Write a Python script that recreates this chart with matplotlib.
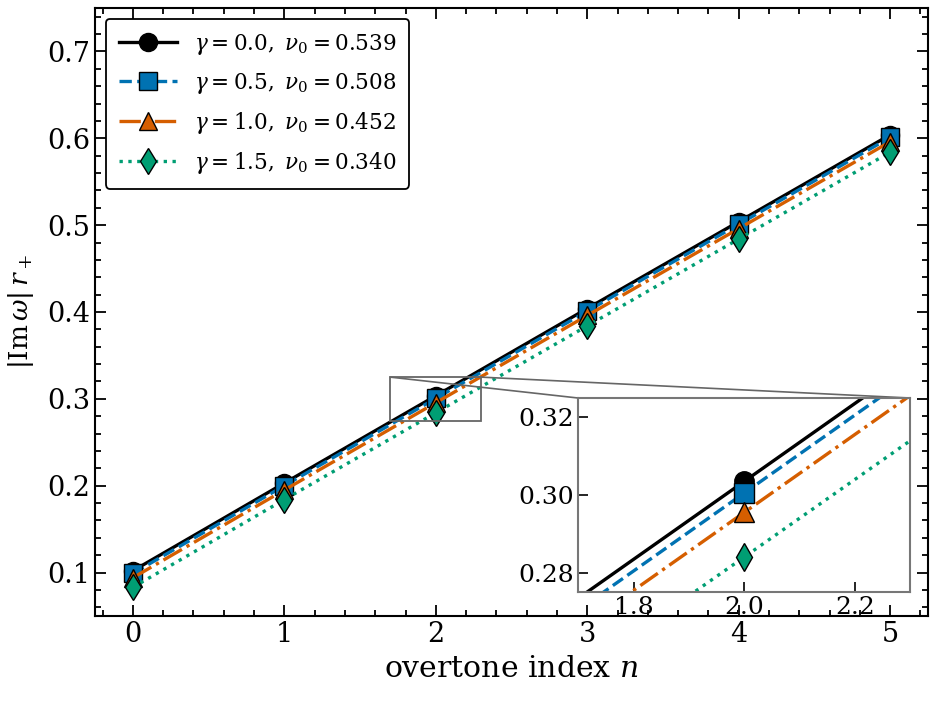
import numpy as np
import matplotlib
matplotlib.use("Agg")
from matplotlib import pyplot as plt

# data
n = [0, 1, 2, 3, 4, 5]
gammas = [0.0, 0.5, 1.0, 1.5]
nu0 = [0.539, 0.508, 0.452, 0.340]
im_g00 = [0.102, 0.203, 0.3035, 0.404, 0.504, 0.604]
im_g05 = [0.099, 0.200, 0.3005, 0.401, 0.501, 0.601]
im_g10 = [0.094, 0.195, 0.2955, 0.396, 0.496, 0.596]
im_g15 = [0.083, 0.184, 0.284, 0.384, 0.484, 0.584]

series = [im_g00, im_g05, im_g10, im_g15]
colors = ['black', '#0072B2', '#D55E00', '#009E73']
markers = ['o', 's', '^', 'd']
styles = ['-', '--', '-.', ':']

plt.rcParams['font.family'] = 'DejaVu Serif'
plt.rcParams['mathtext.fontset'] = 'dejavuserif'
plt.rcParams['font.size'] = 19

fig = plt.figure(figsize=(9.36, 7.27), dpi=100)
ax = fig.add_axes([0.1015, 0.1527, 0.8900, 0.8363])

for y, g, nu, c, m, ls in zip(series, gammas, nu0, colors, markers, styles):
    ax.plot(n, y, color=c, ls=ls, lw=2.4, marker=m, ms=13, mfc=c,
            mec='black', mew=1.0,
            label=r'$\gamma{=}%.1f,\ \nu_0{=}%.3f$' % (g, nu))

ax.set_xlim(-0.25, 5.25)
ax.set_ylim(0.05, 0.75)
ax.set_xticks(n)
ax.set_yticks(np.arange(0.1, 0.71, 0.1))
ax.xaxis.set_minor_locator(matplotlib.ticker.MultipleLocator(0.2))
ax.yaxis.set_minor_locator(matplotlib.ticker.MultipleLocator(0.02))
ax.tick_params(which='both', direction='in', top=True, right=True, width=1.3,
               labelsize=19.5)
ax.tick_params(which='major', length=8)
ax.tick_params(which='minor', length=4)
for s in ax.spines.values():
    s.set_linewidth(1.5)

ax.set_xlabel(r'overtone index $n$', fontsize=21.5, labelpad=5)
ax.set_ylabel(r'$|\mathrm{Im}\,\omega|\,r_+$', fontsize=19, labelpad=8)

leg = ax.legend(loc='upper left', fancybox=True, framealpha=1, fontsize=15.5,
                edgecolor='black', handlelength=2.7, labelspacing=0.65,
                borderpad=0.6, borderaxespad=0.5)
leg.get_frame().set_linewidth(1.3)

# zoomed inset around n = 2
axins = ax.inset_axes([0.580, 0.0395, 0.3986, 0.319])
for y, c, m, ls in zip(series, colors, markers, styles):
    axins.plot(n, y, color=c, ls=ls, lw=2.4, marker=m, ms=14, mfc=c,
               mec='black', mew=1.0)
axins.set_xlim(1.7, 2.3)
axins.set_ylim(0.275, 0.325)
axins.set_xticks([1.8, 2.0, 2.2])
axins.set_yticks([0.28, 0.30, 0.32])
axins.tick_params(direction='in', length=7, width=1.2, labelsize=18, pad=3)
for s in axins.spines.values():
    s.set_color('#777777')
    s.set_linewidth(1.5)

ind = ax.indicate_inset_zoom(axins, edgecolor='#666666', linewidth=1.3, alpha=1)
for c, vis in zip(ind.connectors, [False, True, False, True]):
    c.set_visible(vis)
    c.set_color('#666666')
    c.set_linewidth(1.2)

fig.savefig('out.png', dpi=100)
